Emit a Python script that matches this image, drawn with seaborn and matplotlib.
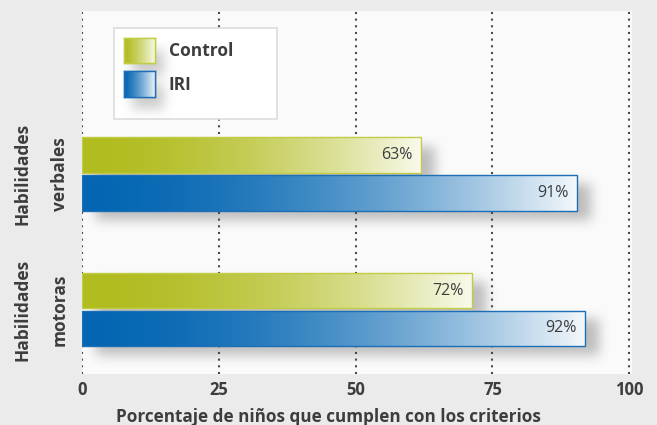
import numpy as np
import pandas as pd
import matplotlib
matplotlib.use("Agg")
import matplotlib.pyplot as plt
import seaborn as sns
from matplotlib.patches import Rectangle
from matplotlib.colors import to_rgb

# ---- data ----
categories = ["Habilidades\nverbales", "Habilidades\nmotoras"]
groups = ["Control", "IRI"]
control_vals = [62.0, 71.3]
iri_vals = [90.5, 92.0]
control_labels = ["63%", "72%"]
iri_labels = ["91%", "92%"]
x_ticks = [0, 25, 50, 75, 100]
x_label = "Porcentaje de niños que cumplen con los criterios"

df = pd.DataFrame({
    "cat": categories * 2,
    "grupo": [groups[0]] * 2 + [groups[1]] * 2,
    "valor": control_vals + iri_vals,
})
value_labels = {"Control": control_labels, "IRI": iri_labels}

# colours
grad = {
    "Control": ("#b1bc1f", "#f9faec", "#c3cc45"),
    "IRI": ("#0466b2", "#f4f8fc", "#1d6fb5"),
}
txt_col = "#3d3d3d"

sns.set_theme(style="white")
plt.rcParams["font.family"] = ["Open Sans", "DejaVu Sans"]

fig = plt.figure(figsize=(6.57, 4.25), dpi=100, facecolor="#ebebeb")
ax = fig.add_axes([82 / 657, 1 - 374 / 425, 550 / 657, 363 / 425])
ax.set_facecolor("#fafafa")

sns.barplot(data=df, y="cat", x="valor", hue="grupo", hue_order=groups, orient="h",
            palette={"Control": grad["Control"][0], "IRI": grad["IRI"][0]},
            saturation=1, width=0.56, gap=0.07, ax=ax, legend=False, zorder=3)

XLIM = (0, 100.5)
YLIM = (1.476, -1.203)
ax.set_xlim(*XLIM)
ax.set_ylim(*YLIM)

bar_info = []
for g, cont in zip(groups, ax.containers):
    for i, p in enumerate(cont.patches):
        bar_info.append((p, g, value_labels[g][i]))

# ---- shadow helpers ----
W, H = 550, 363
xs = np.linspace(XLIM[0], XLIM[1], W)
ys = np.linspace(YLIM[1], YLIM[0], H)  # top to bottom
XX, YY = np.meshgrid(xs, ys)
px_x = (XLIM[1] - XLIM[0]) / W
px_y = (YLIM[0] - YLIM[1]) / H


def box_blur(a, r):
    k = np.ones(2 * r + 1) / (2 * r + 1)
    a = np.apply_along_axis(lambda m: np.convolve(m, k, mode="same"), 0, a)
    a = np.apply_along_axis(lambda m: np.convolve(m, k, mode="same"), 1, a)
    return a


def shadow_image(rects, ox, oy, r, alpha):
    mask = np.zeros((H, W))
    for (x0, y0, w, h) in rects:
        x0, y0 = x0 + ox * px_x, y0 + oy * px_y
        mask[(XX >= x0) & (XX <= x0 + w) & (YY >= y0) & (YY <= y0 + h)] = 1.0
    for _ in range(3):
        mask = box_blur(mask, r)
    img = np.zeros((H, W, 4))
    img[..., :3] = 0.35
    img[..., 3] = mask * alpha
    return img


rects = [(p.get_x(), p.get_y(), p.get_width(), p.get_height()) for p, _, _ in bar_info]
ax.imshow(shadow_image(rects, 14, 9, 5, 0.38),
          extent=(XLIM[0], XLIM[1], YLIM[0], YLIM[1]), origin="upper",
          aspect="auto", zorder=0.3, interpolation="bilinear")


# ---- gradient fill ----
def gradient_image(c0, c1, n=256, power=1.8):
    t = np.linspace(0, 1, n) ** power
    a, b = np.array(to_rgb(c0)), np.array(to_rgb(c1))
    return (a[None, :] * (1 - t[:, None]) + b[None, :] * t[:, None])[None, :, :]


for p, h, lab in bar_info:
    c0, c1, ec = grad[h]
    im = ax.imshow(gradient_image(c0, c1),
                   extent=(p.get_x(), p.get_x() + p.get_width(),
                           p.get_y() + p.get_height(), p.get_y()),
                   aspect="auto", zorder=3, interpolation="bilinear")
    im.set_clip_path(p)
    p.set_facecolor("none")
    p.set_edgecolor(ec)
    p.set_linewidth(1.0)
    p.set_zorder(4)
    ax.text(p.get_x() + p.get_width() - 1.6, p.get_y() + p.get_height() / 2,
            lab, ha="right", va="center",
            fontsize=11.5, color=txt_col, zorder=5)

ax.set_xlim(*XLIM)
ax.set_ylim(*YLIM)

# ---- grid / axes ----
ax.set_axisbelow(True)
ax.grid(axis="x", linestyle=(0, (1, 2.2)), color="#4a4a4a", linewidth=1.5, zorder=0.5)
ax.grid(axis="y", visible=False)
ax.set_xticks(x_ticks)
ax.set_xticklabels([str(t) for t in x_ticks], fontweight="bold", fontsize=12, color=txt_col)
ax.tick_params(axis="both", length=0)
ax.tick_params(axis="x", pad=5)
ax.tick_params(axis="y", pad=9.5)
for lab in ax.get_yticklabels():
    lab.set_rotation(90)
    lab.set_fontweight("bold")
    lab.set_fontsize(12.5)
    lab.set_color(txt_col)
    lab.set_multialignment("center")
    lab.set_linespacing(2.35)
    lab.set_va("center")
    lab.set_ha("right")
for s in ax.spines.values():
    s.set_visible(False)
ax.set_ylabel("")
ax.set_xlabel(x_label, fontweight="bold", fontsize=12.3, color=txt_col)
ax.xaxis.set_label_coords((328.5 - 82) / 550, -(408 - 374) / 363)
ax.xaxis.label.set_va("top")

# ---- legend ----
frame = Rectangle((32 / 550, (374 - 119) / 363), (277 - 114) / 550, (119 - 28) / 363,
                  transform=ax.transAxes, facecolor="white", edgecolor="#dddddd",
                  linewidth=1.2, zorder=6)
ax.add_patch(frame)
handles = [Rectangle((0, 0), 1, 1, facecolor=grad[g][0], edgecolor=grad[g][2]) for g in groups]
leg = ax.legend(handles, groups, loc="upper left",
                bbox_to_anchor=(32 / 550, (374 - 28) / 363), borderaxespad=0,
                frameon=False, handlelength=1.84, handleheight=1.9,
                handletextpad=0.75, labelspacing=0.46, borderpad=0.55,
                prop={"weight": "bold", "size": 12.5, "family": ["Open Sans", "DejaVu Sans"]})
leg.set_zorder(7)
for t in leg.get_texts():
    t.set_color(txt_col)

fig.canvas.draw()
renderer = fig.canvas.get_renderer()
inv_data = ax.transData.inverted()
inv_fig = fig.transFigure.inverted()
sw_rects = []
for hnd, g in zip(leg.legend_handles, groups):
    bb = hnd.get_window_extent(renderer)
    (dx0, dy0), (dx1, dy1) = inv_data.transform([[bb.x0, bb.y0], [bb.x1, bb.y1]])
    sw_rects.append((min(dx0, dx1), min(dy0, dy1), abs(dx1 - dx0), abs(dy1 - dy0)))
    (fx0, fy0), (fx1, fy1) = inv_fig.transform([[bb.x0, bb.y0], [bb.x1, bb.y1]])
    gax = fig.add_axes([fx0, fy0, fx1 - fx0, fy1 - fy0], zorder=9)
    gax.imshow(gradient_image(grad[g][0], grad[g][1], power=1.3), aspect="auto",
               extent=(0, 1, 0, 1))
    gax.set_xticks([]); gax.set_yticks([])
    for s in gax.spines.values():
        s.set_color(grad[g][2]); s.set_linewidth(1.0)

ax.imshow(shadow_image(sw_rects, 8, 12, 5, 0.30),
          extent=(XLIM[0], XLIM[1], YLIM[0], YLIM[1]), origin="upper",
          aspect="auto", zorder=6.5, interpolation="bilinear")
ax.set_xlim(*XLIM)
ax.set_ylim(*YLIM)

fig.savefig("out.png", dpi=100, facecolor=fig.get_facecolor())
